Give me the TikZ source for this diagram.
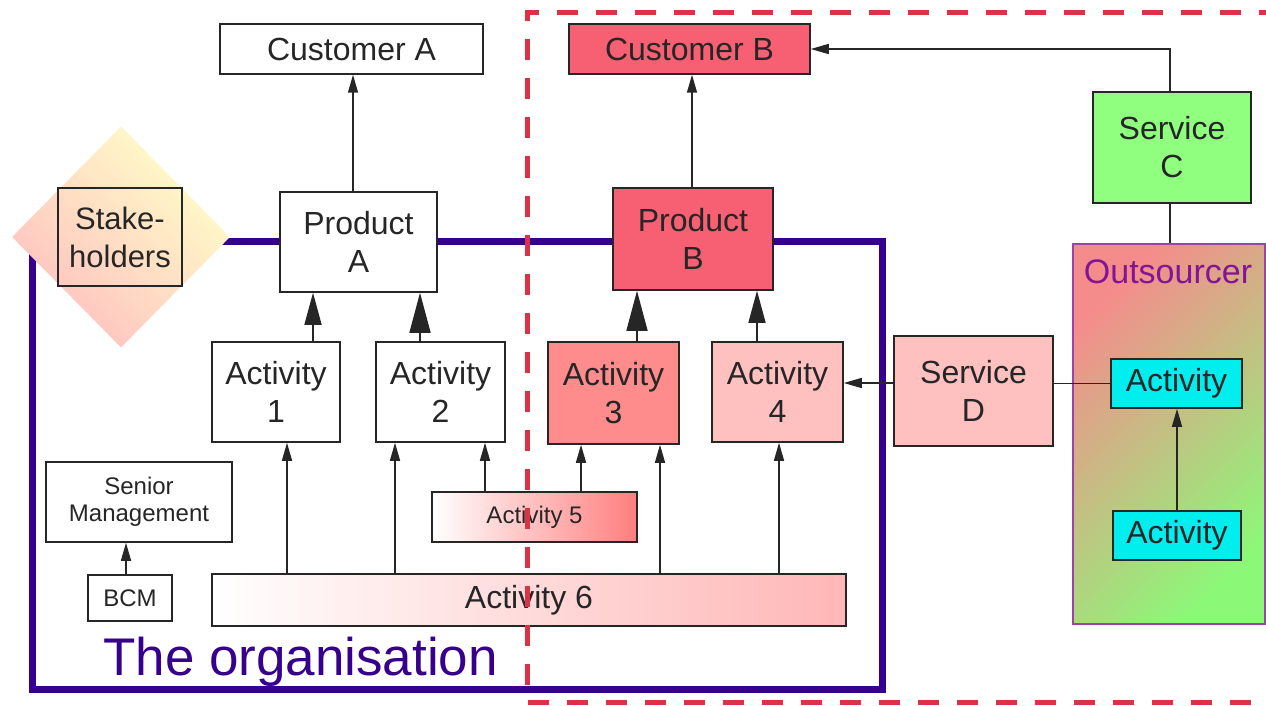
\documentclass[tikz,border=0pt]{standalone}
\usepackage{fontspec}
\setmainfont{Liberation Sans}
\usetikzlibrary{arrows.meta,shapes.geometric}
\definecolor{orgpurple}{RGB}{55,0,140}
\definecolor{bdred}{RGB}{220,50,70}
\definecolor{prodred}{RGB}{247,96,115}
\definecolor{actred}{RGB}{255,140,140}
\definecolor{actpink}{RGB}{255,192,192}
\definecolor{servgreen}{RGB}{144,255,128}
\definecolor{actcyan}{RGB}{0,238,238}
\definecolor{outsred}{RGB}{245,140,140}
\definecolor{outsgreen}{RGB}{140,248,120}
\definecolor{outstext}{RGB}{130,20,150}
\definecolor{stakeyellow}{RGB}{255,255,200}
\begin{document}
\begin{tikzpicture}[x=1pt,y=-1pt]
			\tikzset{kasten/.style={draw=black!85, line width=1.5pt, inner sep=0pt, align=center, text=black!85, font=\fontsize{32}{38}\selectfont},
				smallkasten/.style={kasten, font=\fontsize{24}{27}\selectfont},
				verb/.style={draw=black!85, line width=1.5pt},
				smallarr/.style={verb, -{Triangle[length=18pt,width=10pt]}},
				midarr/.style={verb, -{Triangle[length=32pt,width=17pt]}},
				bigarr/.style={verb, -{Triangle[length=40pt,width=21pt]}}}
			\useasboundingbox (0,0) rectangle (1266,706);

			% The organisation
			\draw [line width=7pt, draw=orgpurple] (32,241) rectangle (882,689);
			\node [anchor=base west, text=orgpurple, inner sep=0pt, font=\fontsize{53}{60}\selectfont] (orgname) at (103,675) {The organisation};

			% Stakeholders
			\node [diamond, inner sep=0pt, minimum width=218, minimum height=221, bottom color=actpink, top color=stakeyellow, shading angle=-45] (stakediamond) at (121,237) {};
			\node [kasten, minimum width=124, minimum height=98, font=\fontsize{31}{38}\selectfont] (stake) at (120,237) {Stake-\\holders};

			% Outsourcer
			\node [draw=outstext!80, line width=1.2pt, minimum width=192, minimum height=380, inner sep=0pt, top color=outsred, bottom color=outsgreen, shading angle=45] (outs) at (1169,434) {};
			\node [anchor=base, text=outstext, inner sep=0pt, font=\fontsize{34}{40}\selectfont] (outsname) at (1168,283) {Outsourcer};

			% Customers and products
			\node [kasten, fill=white, minimum width=263, minimum height=50] (custA) at (351.5,49) {Customer A};
			\node [kasten, fill=prodred, minimum width=241, minimum height=50] (custB) at (689.5,49) {Customer B};
			\node [kasten, fill=white, minimum width=157, minimum height=100] (prodA) at (358.5,242) {Product\\A};
			\node [kasten, fill=prodred, minimum width=160, minimum height=102] (prodB) at (693,239) {Product\\B};
			\node [kasten, fill=servgreen, minimum width=158, minimum height=111] (servC) at (1172,147.5) {Service\\C};
			\node [kasten, fill=actpink, minimum width=159, minimum height=110] (servD) at (973.5,391) {Service\\D};

			% Activities
			\node [kasten, fill=white, minimum width=128, minimum height=100] (act1) at (276,392) {Activity\\1};
			\node [kasten, fill=white, minimum width=129, minimum height=100] (act2) at (440.5,392) {Activity\\2};
			\node [kasten, fill=actred, minimum width=131, minimum height=102] (act3) at (613.5,393) {Activity\\3};
			\node [kasten, fill=actpink, minimum width=131, minimum height=100] (act4) at (777.5,392) {Activity\\4};
			\node [smallkasten, left color=white, right color=actred!90!red, minimum width=205, minimum height=50] (act5) at (534.5,517) {Activity 5};
			\node [kasten, left color=white, right color=actpink!95!red, minimum width=634, minimum height=52] (act6) at (529,600) {Activity 6};
			\node [kasten, fill=actcyan, minimum width=131, minimum height=49] (oact1) at (1176.5,383.5) {Activity};
			\node [kasten, fill=actcyan, minimum width=128, minimum height=49] (oact2) at (1177,535.5) {Activity};
			\node [smallkasten, fill=white, minimum width=186, minimum height=80] (senior) at (139,502) {Senior\\Management};
			\node [smallkasten, fill=white, minimum width=84, minimum height=46] (bcm) at (130,598) {BCM};

			% Arrows up to customers
			\draw [smallarr] ([xshift=-5.5pt]prodA.north) -- ([xshift=-5.5pt]prodA.north |- custA.south);
			\draw [smallarr] ([xshift=-1pt]prodB.north) -- ([xshift=-1pt]prodB.north |- custB.south);
			\draw [smallarr] ([xshift=-2pt]servC.north) |- (custB.east);
			\draw [verb] ([xshift=-2pt]servC.south) -- ([xshift=-2pt]servC.south |- outs.north);

			% Arrows up to products
			\draw [midarr] ([xshift=37pt]act1.north) -- ([xshift=37pt]act1.north |- prodA.south);
			\draw [bigarr] ([xshift=-20.5pt]act2.north) -- ([xshift=-20.5pt]act2.north |- prodA.south);
			\draw [bigarr] ([xshift=23.5pt]act3.north) -- ([xshift=23.5pt]act3.north |- prodB.south);
			\draw [midarr] ([xshift=-20.5pt]act4.north) -- ([xshift=-20.5pt]act4.north |- prodB.south);

			% Services
			\draw [verb] (oact1.west) -- (oact1.west -| servD.east);
			\draw [smallarr] ([yshift=8pt]servD.west) -- ([yshift=8pt]servD.west -| act4.east);
			\draw [smallarr] (oact2.north) -- (oact2.north |- oact1.south);

			% Arrows from activity 5 and 6
			\draw [smallarr] ([xshift=11pt]act1.south |- act6.north) -- ([xshift=11pt]act1.south);
			\draw [smallarr] ([xshift=-45.5pt]act2.south |- act6.north) -- ([xshift=-45.5pt]act2.south);
			\draw [smallarr] ([xshift=44.5pt]act2.south |- act5.north) -- ([xshift=44.5pt]act2.south);
			\draw [smallarr] ([xshift=-32.5pt]act3.south |- act5.north) -- ([xshift=-32.5pt]act3.south);
			\draw [smallarr] ([xshift=46.5pt]act3.south |- act6.north) -- ([xshift=46.5pt]act3.south);
			\draw [smallarr] ([xshift=1.5pt]act4.south |- act6.north) -- ([xshift=1.5pt]act4.south);
			\draw [smallarr] ([xshift=-4pt]bcm.north) -- ([xshift=-4pt]bcm.north |- senior.south);

			% Red dashed border
			\draw [line width=5pt, draw=bdred, dash pattern=on 21pt off 18pt] (1280,12.5) -- (527,12.5) -- (527,702) -- (1280,702);
		\end{tikzpicture}
\end{document}
